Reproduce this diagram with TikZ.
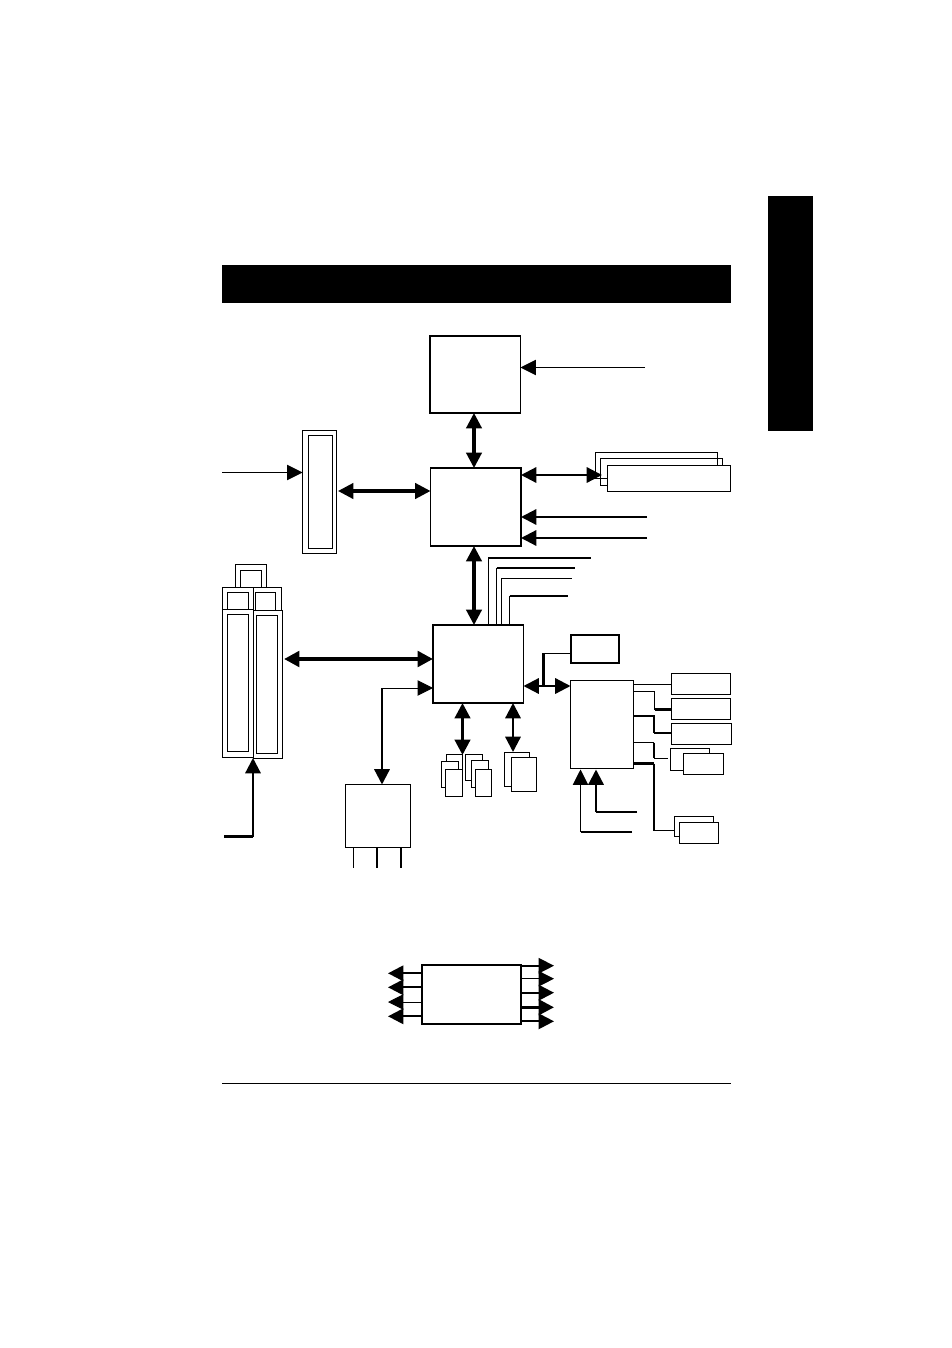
\documentclass[tikz,border=0pt]{standalone}
\usetikzlibrary{arrows.meta}
\tikzset{
  px/.style={x=0.75pt,y=-0.75pt},
  bx/.style={draw=black,fill=white,inner sep=0pt,outer sep=0pt,line width=0.75pt},
  open/.style={fill=none},
  chip/.style={line width=1.2pt},
  solidbar/.style={draw=none,fill=black},
  w1/.style={line width=0.7pt},
  w2/.style={line width=1.2pt},
  w3/.style={line width=1.7pt},
  w4/.style={line width=2.3pt},
  w5/.style={line width=3pt},
  >={Triangle[length=11.5pt,width=11.5pt]}
}
\newcommand{\bx}[6][]{%
  \pgfmathsetmacro\cxx{(#3+#5)/2}\pgfmathsetmacro\cyy{(#4+#6)/2}%
  \node[bx,#1,minimum width={(#5-#3)*0.75pt},minimum height={(#6-#4)*0.75pt}] (#2) at (\cxx,\cyy) {};}
\begin{document}
\begin{tikzpicture}[px]
\useasboundingbox (0,0) rectangle (952,1348);
\fill[white] (0,0) rectangle (952,1348);
% solid bars and rule
\bx[solidbar]{header}{222}{264.5}{731}{303}
\bx[solidbar]{tab}{768}{196}{813}{431}
\coordinate (ruleL) at (222,1083.5);
\coordinate (ruleR) at (731,1083.5);
\draw[line width=0.5pt] (ruleL) -- (ruleR);
% main chips
\bx[chip]{cpu}{430}{336}{520.5}{413}
\bx[chip]{gmch}{430.5}{468}{521}{546}
\bx[chip]{ich}{433}{625}{523.5}{703}
% AGP
\bx{agpO}{302.5}{430.5}{336.5}{553}
\bx{agpI}{308.5}{435.5}{332}{548.5}
% PCI slots
\bx{capO}{235.5}{564.5}{266.5}{588}
\bx{capI}{240.5}{570}{261.5}{588}
\bx{topLO}{222.5}{587.5}{253}{610}
\bx{topLI}{227.5}{592.5}{248.5}{610}
\bx{topRO}{253.5}{587.5}{281.5}{611}
\bx{topRI}{255.5}{592.5}{275.5}{611}
\bx{slotRO}{253.5}{610.5}{282.5}{758.5}
\bx{slotRI}{256.5}{615.5}{277}{753.5}
\bx{slotLO}{222.5}{609.5}{253}{757.5}
\bx{slotLI}{227.5}{614.5}{248.5}{751.5}
% AC97 / audio box
\bx{codec}{345.5}{784.5}{410.5}{847}
% DIMMs
\bx[open]{dimA}{595.5}{452.5}{717.5}{478.5}
\bx[open]{dimB}{600.5}{458.5}{722.5}{485.5}
\bx{dimC}{607.5}{465.5}{730.5}{491.5}
% right of ICH
\bx[chip]{lpc}{571}{635}{619}{663}
\bx{sio}{570.5}{680.5}{633.5}{768.5}
\bx{ioA}{671.5}{673.5}{730.5}{694.5}
\bx{ioB}{671.5}{698.5}{730.5}{719.5}
\bx{ioC}{671.5}{723.5}{731.5}{744.5}
\bx{ioDb}{670.5}{748.5}{709.5}{770.5}
\bx{ioDf}{683.5}{753.5}{723.5}{774.5}
\bx{ioEb}{674.5}{816.5}{713.5}{836.5}
\bx{ioEf}{679.5}{822.5}{718.5}{843.5}
% small stacks below ICH
\bx{usbAb}{446.5}{754.5}{462.5}{780}
\bx{usbAm}{441.5}{761.5}{458.5}{787.5}
\bx{usbAf}{445.5}{769.5}{462.5}{796.5}
\bx{usbBb}{465.5}{754.5}{482.5}{780.5}
\bx{usbBm}{471.5}{760.5}{488.5}{787.5}
\bx{usbBf}{475.5}{769.5}{491.5}{796.5}
\bx{ideb}{504.5}{752.5}{529.5}{786.5}
\bx{idef}{511.5}{757.5}{536.5}{791.5}
% bottom box
\bx[chip]{clk}{422}{965}{521}{1024}
% free ends
\coordinate (cpuIn) at (645,367.5);
\coordinate (agpIn) at (222,472.5);
\coordinate (gIn1) at (647,517);
\coordinate (gIn2) at (647,538);
\coordinate (pciIn) at (224,836.5);
\coordinate (pciC) at (253,836.5);
\coordinate (codecC) at (382,688);
\coordinate (t1) at (591,557.7);
\coordinate (t2) at (575,568);
\coordinate (t3) at (572,578.3);
\coordinate (t4) at (568,596);
\coordinate (c1) at (353.5,867.5);
\coordinate (c2) at (377,867.5);
\coordinate (c3) at (401,867.5);
\coordinate (lpcC) at (543.5,653);
\coordinate (lpcB) at (543.5,686);
\coordinate (in1) at (632,832);
\coordinate (in2) at (637,812);
% connectors
\draw[w1,->] (cpuIn) -- (cpu.east |- cpuIn);
\draw[w4,<->] (cpu.south -| 474,0) -- (gmch.north -| 474,0);
\draw[w4,<->] (gmch.south -| 474,0) -- (ich.north -| 474,0);
\draw[w1,->] (agpIn) -- (agpO.west |- agpIn);
\draw[w4,<->] (338,491) -- (gmch.west |- 0,491);
\draw[w5,<->] (284,659) -- (ich.west |- 0,659);
\draw[w3,<->] (gmch.east |- 0,475) -- (602,475);
\draw[w3,->] (gIn1) -- (gmch.east |- gIn1);
\draw[w3,->] (gIn2) -- (gmch.east |- gIn2);
% ICH upper lines
\draw[w1] (ich.north -| 488,0) |- (488,557.7);
\draw[w3] (488,557.7) -- (t1);
\draw[w1] (ich.north -| 496.5,0) -- (496.5,568);
\draw[w3] (496.5,568) -- (t2);
\draw[w1] (ich.north -| 501.5,0) |- (t3);
\draw[w1] (ich.north -| 509.5,0) -- (509.5,596);
\draw[w3] (509.5,596) -- (t4);
% PCI feed
\draw[w3] (pciIn) -- (pciC);
\draw[w3,->] (pciC) -- (253,758);
% ICH to codec
\draw[w1,->] (codecC) -- (ich.west |- codecC);
\draw[w3,->] (codecC) -- (codecC |- codec.north);
\draw[w1] (codec.south -| c1) -- (c1);
\draw[w3] (codec.south -| c2) -- (c2);
\draw[w2] (codec.south -| c3) -- (c3);
% ICH below
\draw[w4,<->] (ich.south -| 462.5,0) -- (462.5,755);
\draw[w3,<->] (ich.south -| 513,0) -- (513,752);
% ICH to SIO
\draw[w3,<->] (ich.east |- lpcB) -- (sio.west |- lpcB);
\draw[w3] (lpcB) -- (lpcC);
\draw[w1] (lpcC) -- (lpc.west |- lpcC);
% SIO outputs
\draw[w1] (sio.east |- 0,684.5) -- (ioA.west |- 0,684.5);
\draw[w1] (sio.east |- 0,691) -- (654.5,691);
\draw[w2] (654.5,691) -- (654.5,709.5);
\draw[w3] (654.5,709.5) -- (ioB.west |- 0,709.5);
\draw[w3] (sio.east |- 0,716) -- (654,716) -- (654,733);
\draw[w3] (654,733) -- (ioC.west |- 0,733);
\draw[w1] (sio.east |- 0,742.5) -- (654,742.5);
\draw[w2] (654,742.5) -- (654,758);
\draw[w1] (654,758) -- (668,758);
\draw[w3] (sio.east |- 0,763.5) -- (654,763.5);
\draw[w2] (654,763.5) -- (654,830.5);
\draw[w1] (654,830.5) -- (ioEb.west |- 0,830.5);
% SIO inputs
\draw[w3] (in1) -- (580.5,832);
\draw[w1,->] (580.5,832) -- (580.5,769.5);
\draw[w3] (in2) -- (596,812);
\draw[w3,->] (596,812) -- (596,769.5);
% bottom box arrows
\draw[w3,->] (clk.west |- 0,973.3) -- (388,973.3);
\draw[w3,->] (clk.west |- 0,987.3) -- (388,987.3);
\draw[w1,->] (clk.west |- 0,1002) -- (388,1002);
\draw[w3,->] (clk.west |- 0,1016.3) -- (388,1016.3);
\draw[w2,->] (clk.east |- 0,965.7) -- (554,965.7);
\draw[w1,->] (clk.east |- 0,978.7) -- (554,978.7);
\draw[w3,->] (clk.east |- 0,992.7) -- (554,992.7);
\draw[w4,->] (clk.east |- 0,1007.3) -- (554,1007.3);
\draw[w3,->] (clk.east |- 0,1021.3) -- (554,1021.3);
\end{tikzpicture}
\end{document}
